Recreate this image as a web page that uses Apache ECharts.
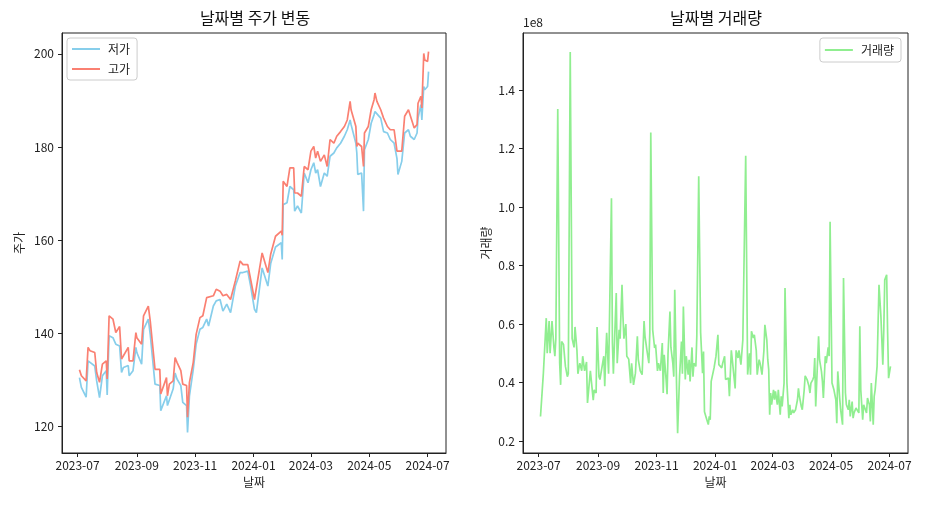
<!DOCTYPE html>
<html><head><meta charset="utf-8">
<script src="https://cdn.jsdelivr.net/npm/echarts@6/dist/echarts.min.js"></script>
<style>html,body{margin:0;padding:0;background:#fff}#c{width:948px;height:508px}</style>
</head><body><div id="c"></div>
<script>
// ---- data ----
const priceDates = ['2023-07-03','2023-07-05','2023-07-10','2023-07-12','2023-07-14','2023-07-19','2023-07-21','2023-07-24','2023-07-27','2023-07-31',
'2023-08-01','2023-08-03','2023-08-07','2023-08-10','2023-08-14','2023-08-16','2023-08-18','2023-08-23','2023-08-24','2023-08-28','2023-08-31',
'2023-09-01','2023-09-06','2023-09-08','2023-09-13','2023-09-15','2023-09-20','2023-09-25','2023-09-26',
'2023-10-02','2023-10-03','2023-10-05','2023-10-09','2023-10-11','2023-10-13','2023-10-17','2023-10-19','2023-10-23','2023-10-24','2023-10-26','2023-10-30',
'2023-11-02','2023-11-06','2023-11-09','2023-11-13','2023-11-15','2023-11-20','2023-11-23','2023-11-27','2023-11-30',
'2023-12-04','2023-12-08','2023-12-13','2023-12-18','2023-12-21','2023-12-26','2023-12-29',
'2024-01-02','2024-01-04','2024-01-10','2024-01-16','2024-01-19','2024-01-24','2024-01-30','2024-01-31',
'2024-02-01','2024-02-05','2024-02-08','2024-02-12','2024-02-13','2024-02-16','2024-02-20','2024-02-23','2024-02-27',
'2024-03-01','2024-03-04','2024-03-06','2024-03-08','2024-03-11','2024-03-15','2024-03-18','2024-03-21','2024-03-25','2024-03-28',
'2024-04-01','2024-04-05','2024-04-08','2024-04-11','2024-04-12','2024-04-17','2024-04-18','2024-04-19','2024-04-23','2024-04-25','2024-04-26','2024-04-30',
'2024-05-03','2024-05-06','2024-05-07','2024-05-09','2024-05-13','2024-05-16','2024-05-20','2024-05-23','2024-05-27','2024-05-30','2024-05-31',
'2024-06-04','2024-06-07','2024-06-11','2024-06-13','2024-06-17','2024-06-20','2024-06-21','2024-06-24','2024-06-25','2024-06-27','2024-06-28',
'2024-07-01','2024-07-02'];
const highPrices = [132.1,130.8,129.7,136.9,136.2,135.8,131.5,129.4,133.3,134.0,
130.1,143.7,143.0,140.1,141.4,134.4,135.1,136.9,134.0,134.0,140.1,
139.0,137.6,143.7,145.8,142.6,132.2,132.2,126.9,
130.4,126.5,129.0,129.7,134.7,133.7,131.9,129.0,128.7,121.9,129.4,133.7,
139.7,143.3,143.7,147.6,147.2,148.0,149.4,149.0,148.0,
148.3,147.2,151.2,155.5,154.7,154.7,151.5,
147.2,146.9,157.2,153.0,157.0,160.8,161.9,161.0,
172.6,171.5,175.5,175.5,170.1,170.1,169.4,175.8,175.1,
179.1,180.1,177.6,179.1,176.9,178.3,175.8,181.6,180.8,182.3,
183.3,184.4,185.8,189.8,188.0,184.4,180.1,180.8,180.1,175.8,183.0,184.4,
188.0,190.1,191.6,189.8,188.0,186.2,184.4,183.7,183.7,179.1,178.7,
179.1,186.6,188.0,188.4,184.1,184.8,189.4,190.9,188.4,200.1,198.7,
198.4,200.5];
const lowPrices = [130.4,128.3,126.2,134.0,133.7,132.9,129.7,126.1,130.8,131.9,
126.7,139.4,139.0,137.6,137.2,131.5,132.6,133.0,130.8,131.9,136.9,
135.8,133.3,140.8,143.0,139.7,129.0,128.7,123.3,
126.5,124.4,124.4,128.0,131.4,130.1,128.7,125.1,124.4,118.6,126.5,132.2,
137.6,140.8,141.2,143.0,141.5,145.8,146.9,147.2,144.7,
146.2,144.4,150.1,153.0,153.0,153.3,150.1,
145.1,144.4,154.0,150.1,155.0,158.5,159.4,155.8,
167.6,168.0,171.5,170.8,166.2,167.3,165.8,174.4,172.3,
175.1,176.6,174.4,175.1,171.5,174.4,173.7,178.0,178.7,179.8,
180.8,182.3,183.7,185.8,184.8,180.8,178.7,174.1,174.4,166.2,179.4,181.6,
185.1,186.9,187.6,187.3,186.2,183.3,183.0,181.6,180.8,177.5,174.1,
176.9,183.0,183.7,182.3,181.6,183.0,186.2,189.1,185.8,193.0,192.3,
193.0,196.2];

const volumeDates = ['2023-07-03','2023-07-06','2023-07-09','2023-07-10','2023-07-12','2023-07-13','2023-07-15','2023-07-17','2023-07-18','2023-07-19',
'2023-07-21','2023-07-23','2023-07-24','2023-07-25','2023-07-27','2023-07-29','2023-07-31','2023-08-01','2023-08-03','2023-08-05',
'2023-08-07','2023-08-08','2023-08-10','2023-08-11','2023-08-13','2023-08-15','2023-08-16','2023-08-18','2023-08-20','2023-08-21',
'2023-08-23','2023-08-24','2023-08-26','2023-08-27','2023-08-28','2023-08-30','2023-08-31','2023-09-02','2023-09-03','2023-09-05',
'2023-09-07','2023-09-08','2023-09-09','2023-09-10','2023-09-12','2023-09-13','2023-09-15','2023-09-16','2023-09-17','2023-09-19',
'2023-09-20','2023-09-21','2023-09-23','2023-09-24','2023-09-26','2023-09-27','2023-09-28','2023-09-30','2023-10-01','2023-10-03',
'2023-10-05','2023-10-06','2023-10-08','2023-10-10','2023-10-12','2023-10-13','2023-10-15','2023-10-17','2023-10-19','2023-10-20',
'2023-10-22','2023-10-24','2023-10-25','2023-10-26','2023-10-28','2023-10-30','2023-10-31','2023-11-02','2023-11-03','2023-11-05',
'2023-11-07','2023-11-08','2023-11-09','2023-11-11','2023-11-12','2023-11-13','2023-11-15','2023-11-16','2023-11-18','2023-11-19',
'2023-11-20','2023-11-22','2023-11-23','2023-11-25','2023-11-27','2023-11-28','2023-11-29','2023-12-01','2023-12-02','2023-12-04',
'2023-12-05','2023-12-06','2023-12-08','2023-12-09','2023-12-10','2023-12-12','2023-12-13','2023-12-15','2023-12-17','2023-12-19',
'2023-12-20','2023-12-21','2023-12-23','2023-12-25','2023-12-26','2023-12-27','2023-12-28','2023-12-31','2024-01-02','2024-01-04',
'2024-01-05','2024-01-07','2024-01-08','2024-01-09','2024-01-11','2024-01-12','2024-01-14','2024-01-15','2024-01-16','2024-01-18',
'2024-01-19','2024-01-21','2024-01-22','2024-01-23','2024-01-25','2024-01-26','2024-01-28','2024-01-30','2024-02-02','2024-02-04',
'2024-02-06','2024-02-07','2024-02-08','2024-02-10','2024-02-11','2024-02-13','2024-02-14','2024-02-16','2024-02-17','2024-02-19',
'2024-02-21','2024-02-22','2024-02-24','2024-02-25','2024-02-26','2024-02-27','2024-02-28','2024-02-29','2024-03-02','2024-03-03',
'2024-03-04','2024-03-06','2024-03-07','2024-03-09','2024-03-10','2024-03-11','2024-03-13','2024-03-14','2024-03-16','2024-03-18',
'2024-03-19','2024-03-20','2024-03-22','2024-03-23','2024-03-25','2024-03-27','2024-03-28','2024-03-29','2024-03-31','2024-04-01',
'2024-04-03','2024-04-04','2024-04-06','2024-04-08','2024-04-09','2024-04-10','2024-04-12','2024-04-13','2024-04-14','2024-04-15',
'2024-04-17','2024-04-18','2024-04-19','2024-04-21','2024-04-22','2024-04-23','2024-04-25','2024-04-26','2024-04-28','2024-04-29',
'2024-04-30','2024-05-02','2024-05-04','2024-05-06','2024-05-07','2024-05-08','2024-05-10','2024-05-11','2024-05-13','2024-05-14',
'2024-05-16','2024-05-17','2024-05-19','2024-05-20','2024-05-21','2024-05-23','2024-05-24','2024-05-25','2024-05-27','2024-05-28',
'2024-05-30','2024-05-31','2024-06-01','2024-06-03','2024-06-04','2024-06-06','2024-06-07','2024-06-08','2024-06-10','2024-06-11',
'2024-06-12','2024-06-14','2024-06-15','2024-06-16','2024-06-18','2024-06-20','2024-06-22','2024-06-24','2024-06-25','2024-06-26',
'2024-06-28','2024-06-29','2024-06-30','2024-07-02'];
// volume in millions of shares
const volumeMillions = [28.4,43.2,62.0,50.0,61.0,50.0,61.0,52.0,49.0,55.0,
133.5,46.6,39.2,54.0,53.0,45.5,42.0,43.0,153.0,55.0,
52.0,59.0,51.0,43.0,46.6,44.0,49.0,44.0,47.0,33.0,
33.5,44.0,44.0,34.0,37.5,36.4,59.0,42.0,41.0,41.0,
49.0,38.7,49.0,57.0,43.0,62.6,103.0,53.5,43.0,61.5,
70.6,46.6,58.0,55.0,73.4,62.6,55.0,60.0,49.0,48.0,
39.8,46.6,39.2,43.2,55.8,47.8,44.0,42.7,61.0,55.8,
51.0,46.6,57.0,125.5,58.0,51.8,53.0,44.0,46.6,44.0,
53.5,36.4,49.5,41.0,36.0,50.0,64.3,52.0,46.6,42.0,
71.7,37.5,22.7,42.0,54.0,43.0,66.0,41.0,49.0,42.7,
47.8,40.4,52.0,42.0,46.6,45.5,55.8,110.5,57.0,43.2,
50.6,30.0,27.8,25.6,28.4,27.3,40.4,45.0,49.0,56.3,
46.1,46.6,45.0,46.6,49.0,41.0,41.5,41.5,35.3,51.0,
47.8,47.8,38.0,51.0,48.4,51.0,46.1,54.6,117.5,42.7,
50.0,42.7,57.5,55.2,56.3,51.0,42.7,47.8,46.6,42.7,
51.0,59.7,54.6,47.8,44.4,29.0,36.4,32.4,37.5,34.1,
37.0,32.4,37.5,29.0,35.3,31.8,39.8,72.3,39.8,27.8,
32.4,29.0,30.7,29.6,30.7,34.1,38.0,35.3,31.8,30.7,
37.5,42.3,41.0,38.7,36.4,39.8,41.0,42.0,48.4,31.8,
31.3,55.8,47.8,43.8,40.4,34.7,49.0,46.6,52.0,49.0,
95.0,39.8,37.5,34.1,26.1,43.8,34.7,30.7,25.6,75.7,
36.4,32.4,30.7,34.1,28.4,33.5,27.8,29.6,31.3,30.7,
29.6,59.2,37.5,27.3,32.4,31.8,29.6,34.7,32.4,26.7,
39.8,25.6,35.3,37.5,45.5,73.4,62.6,46.1,58.0,75.1,
76.8,57.0,41.5,45.5];

const priceTicks = [120,140,160,180,200];
const volumeTicks = [20,40,60,80,100,120,140]; // millions -> shown in 1e8
// ---- end data ----

function ts(s){ const p=s.split('-'); return new Date(+p[0], +p[1]-1, +p[2]).getTime(); }
const xMin = new Date(2023,5,14,18).getTime();
const xMax = new Date(2024,6,20,6).getTime();
const DAY = 86400000;
const FONT = 'Noto Sans CJK KR';
const TXT = '#222';
const LBL = 12;

function mkX(gi){
  return {
    type:'time', gridIndex:gi, min:xMin, max:xMax, splitNumber:6, minInterval:58*DAY,
    name:'날짜', nameLocation:'middle', nameGap:23,
    nameTextStyle:{fontFamily:FONT,fontSize:LBL,color:TXT},
    axisLine:{show:true,lineStyle:{color:TXT,width:1}},
    axisTick:{show:true,length:4,lineStyle:{color:TXT}},
    axisLabel:{margin:6,fontFamily:FONT,fontSize:LBL,color:TXT,showMinLabel:false,showMaxLabel:false,hideOverlap:false,
      formatter:function(v){ const d=new Date(v); const m=d.getMonth()+1; return d.getFullYear()+'-'+(m<10?'0':'')+m; }},
    splitLine:{show:false}
  };
}

const chart = echarts.init(document.getElementById('c'), null, {renderer:'canvas'});
chart.setOption({
  animation:false,
  backgroundColor:'#fff',
  textStyle:{fontFamily:FONT},
  grid:[
    {left:62, top:33, width:384, height:420, show:true, borderColor:TXT, borderWidth:1, containLabel:false},
    {left:523, top:33, width:385, height:420, show:true, borderColor:TXT, borderWidth:1, containLabel:false}
  ],
  graphic:[
    {type:'text', x:255, y:18, style:{text:'날짜별 주가 변동', fontFamily:FONT, fontSize:16, fill:'#111', align:'center', verticalAlign:'middle'}},
    {type:'text', x:716, y:18, style:{text:'날짜별 거래량', fontFamily:FONT, fontSize:16, fill:'#111', align:'center', verticalAlign:'middle'}},
    {type:'text', x:523, y:22, style:{text:'1e8', fontFamily:FONT, fontSize:LBL, fill:TXT, align:'left', verticalAlign:'middle'}}
  ],
  legend:[
    {data:['저가','고가'], orient:'vertical', left:67, top:38, icon:'rect', itemWidth:28, itemHeight:2, itemGap:6,
     padding:[4,7,4,5], borderColor:'#ccc', borderWidth:1, borderRadius:3, backgroundColor:'rgba(255,255,255,0.8)',
     textStyle:{fontFamily:FONT,fontSize:LBL,color:TXT,lineHeight:14,padding:[0,0,0,3]}},
    {data:['거래량'], orient:'vertical', right:47, top:38, icon:'rect', itemWidth:28, itemHeight:2,
     padding:[5,7,5,5], borderColor:'#ccc', borderWidth:1, borderRadius:3, backgroundColor:'rgba(255,255,255,0.8)',
     textStyle:{fontFamily:FONT,fontSize:LBL,color:TXT,lineHeight:14,padding:[0,0,0,3]}}
  ],
  xAxis:[mkX(0), mkX(1)],
  yAxis:[
    {type:'value', gridIndex:0, min:114.2, max:204.5,
     name:'주가', nameLocation:'middle', nameGap:37, nameRotate:90,
     nameTextStyle:{fontFamily:FONT,fontSize:LBL,color:TXT},
     axisLine:{show:true,lineStyle:{color:TXT,width:1}},
     axisTick:{show:true,length:4,lineStyle:{color:TXT},customValues:priceTicks},
     axisLabel:{customValues:priceTicks,margin:8,fontFamily:FONT,fontSize:LBL,color:TXT},
     splitLine:{show:false}},
    {type:'value', gridIndex:1, min:15.9, max:159.5,
     name:'거래량', nameLocation:'middle', nameGap:31, nameRotate:90,
     nameTextStyle:{fontFamily:FONT,fontSize:LBL,color:TXT},
     axisLine:{show:true,lineStyle:{color:TXT,width:1}},
     axisTick:{show:true,length:4,lineStyle:{color:TXT},customValues:volumeTicks},
     axisLabel:{customValues:volumeTicks,margin:8,fontFamily:FONT,fontSize:LBL,color:TXT,
       formatter:function(v){ return (v/100).toFixed(1); }},
     splitLine:{show:false}}
  ],
  series:[
    {name:'저가', type:'line', xAxisIndex:0, yAxisIndex:0, showSymbol:false, symbol:'none',
     color:'#87CEEB', lineStyle:{color:'#87CEEB', width:1.7},
     data:priceDates.map((d,i)=>[ts(d), lowPrices[i]])},
    {name:'고가', type:'line', xAxisIndex:0, yAxisIndex:0, showSymbol:false, symbol:'none',
     color:'#FA8072', lineStyle:{color:'#FA8072', width:1.7},
     data:priceDates.map((d,i)=>[ts(d), highPrices[i]])},
    {name:'거래량', type:'line', xAxisIndex:1, yAxisIndex:1, showSymbol:false, symbol:'none',
     color:'#90EE90', lineStyle:{color:'#90EE90', width:1.7},
     data:volumeDates.map((d,i)=>[ts(d), volumeMillions[i]])}
  ]
});
</script>
</body></html>
